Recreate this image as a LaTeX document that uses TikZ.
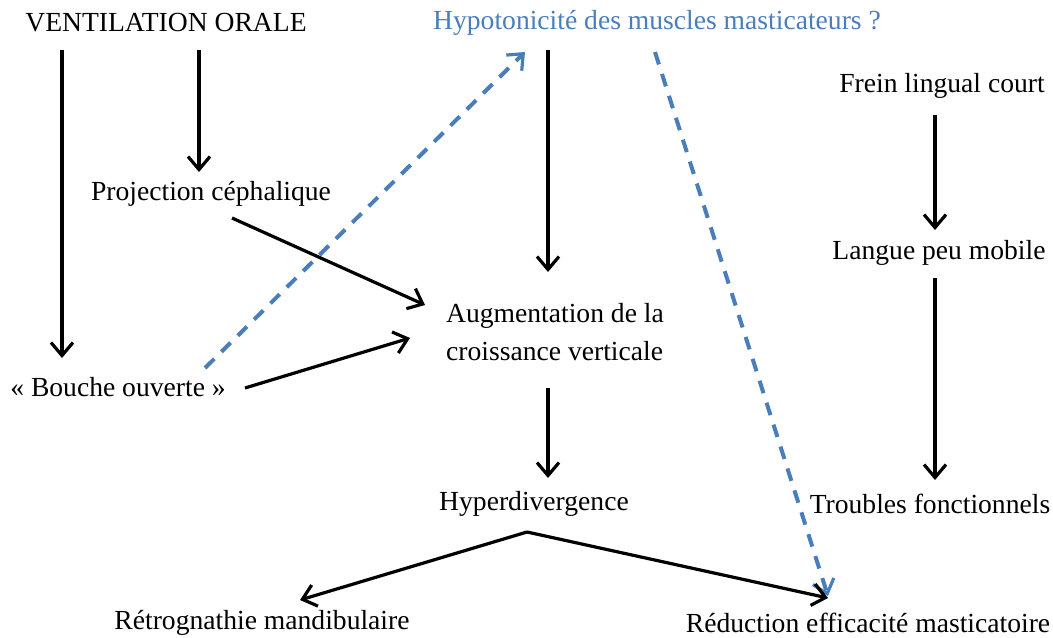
\documentclass[tikz,border=0pt]{standalone}
\usepackage{fontspec}
\setmainfont{Liberation Serif}
\usepackage{tikz}
\usetikzlibrary{positioning,arrows.meta,calc}
\usepackage{xcolor}
\definecolor{officeblue}{RGB}{74,126,187}

\begin{document}
\begin{tikzpicture}[
    x=0.5pt, y=-0.5pt,
    every node/.style={inner sep=0pt, font=\fontsize{13.8}{19}\selectfont, align=left},
    flow/.style={line width=1.6pt, -{Straight Barb[length=6.5pt,width=11pt,line width=1.6pt]}},
    doubt/.style={flow, line width=2pt, draw=officeblue, dash pattern=on 6.5pt off 5pt}
]
    \useasboundingbox (0,0) rectangle (1053,637);

    % causes
    \node (vent) at (166,23) {VENTILATION ORALE};
    \node [text=officeblue] (hypo) at (657,23) {Hypotonicité des muscles masticateurs ?};
    \node (frein) at (942,86) {Frein lingual court};
    \node (proj) at (211,194) {Projection céphalique};
    \node (langue) at (939,253) {Langue peu mobile};
    \node (augm) at (555,332) {Augmentation de la\\croissance verticale};
    \node (bouche) at (118,387) {« Bouche ouverte »};
    \node (hyper) at (534,504) {Hyperdivergence};
    \node (troubles) at (930,504) {Troubles fonctionnels};
    \node (retro) at (262,623) {Rétrognathie mandibulaire};
    \node (reduc) at (868,623) {Réduction efficacité masticatoire};

    % consequences
    \draw [flow] ($(vent)+(-104,27)$) -- ($(bouche)+(-56,-29)$);
    \draw [flow] ($(vent)+(33,27)$) -- ($(proj)+(-12,-22)$);
    \draw [flow] ($(proj)+(21,24)$) -- ($(augm)+(-130,-27)$);
    \draw [flow] ($(bouche)+(127,1)$) -- ($(augm)+(-145,6)$);
    \draw [doubt] ($(bouche)+(87,-19)$) -- ($(hypo)+(-132,29)$);
    \draw [flow] ($(hypo)+(-109,27)$) -- ($(augm)+(-7,-60)$);
    \draw [doubt] ($(hypo)+(-2,29)$) -- ($(reduc)+(-40,-27)$);
    \draw [flow] ($(frein)+(-7,29)$) -- ($(langue)+(-4,-23)$);
    \draw [flow] ($(langue)+(-4,25)$) -- ($(troubles)+(5,-24)$);
    \draw [flow] ($(augm)+(-7,56)$) -- ($(hyper)+(14,-26)$);

    \coordinate (apex) at ($(hyper)+(-7,28)$);
    \draw [flow] (apex) -- ($(retro)+(38,-23)$);
    \draw [flow] (apex) -- ($(reduc)+(-40,-25)$);
\end{tikzpicture}
\end{document}
